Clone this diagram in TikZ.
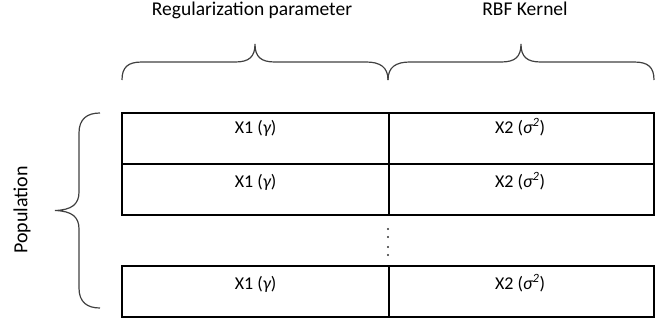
\documentclass[tikz,border=0pt]{standalone}
\usepackage{fontspec}
\setmainfont{Carlito}
\begin{document}
\begin{tikzpicture}[x=1pt,y=-1pt,
  cellbox/.style={draw=black,line width=1.3pt,rectangle,inner sep=0pt,minimum height=51pt},
  lbl/.style={font=\fontsize{18}{21}\selectfont,text=black,inner sep=0pt,anchor=base},
  ttl/.style={lbl,font=\fontsize{19.5}{23}\selectfont},
  bracepath/.style={draw=black!75,line width=1.2pt},
  dotmark/.style={fill=black!80}
]
\useasboundingbox (0,0) rectangle (670,322);
% titles
\node[ttl] (treg) at (252,15) {Regularization parameter};
\node[ttl] (trbf) at (525,15) {RBF Kernel};
% population
\node[lbl,font=\fontsize{20}{23}\selectfont,anchor=center,rotate=90] (tpop) at (22,210) {Population};
% cells
\node[cellbox,minimum width=267pt] (c11) at (255.5,138.5) {};
\node[cellbox,minimum width=265pt] (c12) at (521.5,138.5) {};
\node[cellbox,minimum width=267pt] (c21) at (255.5,189.5) {};
\node[cellbox,minimum width=265pt] (c22) at (521.5,189.5) {};
\node[cellbox,minimum width=267pt] (c31) at (255.5,291.5) {};
\node[cellbox,minimum width=265pt] (c32) at (521.5,291.5) {};
% cell texts
\node[lbl] (t11) at (255.5,133) {X1 ({\itshape γ})};
\node[lbl] (t12) at (520,133) {X2 ({\itshape σ\textsuperscript{2}})};
\node[lbl] (t21) at (255.5,187) {X1 ({\itshape γ})};
\node[lbl] (t22) at (520,187) {X2 ({\itshape σ\textsuperscript{2}})};
\node[lbl] (t31) at (255.5,289) {X1 ({\itshape γ})};
\node[lbl] (t32) at (520,289) {X2 ({\itshape σ\textsuperscript{2}})};
% vertical dots
\foreach \yy in {229,237,247,255} \fill[dotmark] (388,\yy) circle (1.2pt);
% top braces
\draw[bracepath] (122,80) .. controls (122,67) and (128,62) .. (142,62)
  -- (235,62) .. controls (249,62) and (255,57) .. (255,44)
  .. controls (255,57) and (261,62) .. (275,62)
  -- (366,62) .. controls (380,62) and (388,67) .. (388,80);
\draw[bracepath] (388,80) .. controls (388,67) and (396,62) .. (410,62)
  -- (501,62) .. controls (515,62) and (521,57) .. (521,44)
  .. controls (521,57) and (527,62) .. (541,62)
  -- (634,62) .. controls (648,62) and (654,67) .. (654,80);
% left brace
\draw[bracepath] (100,113) .. controls (87,113) and (79,119) .. (79,133)
  -- (79,192) .. controls (79,204) and (72,210) .. (55,210.5)
  .. controls (72,211) and (79,217) .. (79,229)
  -- (79,288) .. controls (79,302) and (87,308) .. (100,308);
\end{tikzpicture}
\end{document}
